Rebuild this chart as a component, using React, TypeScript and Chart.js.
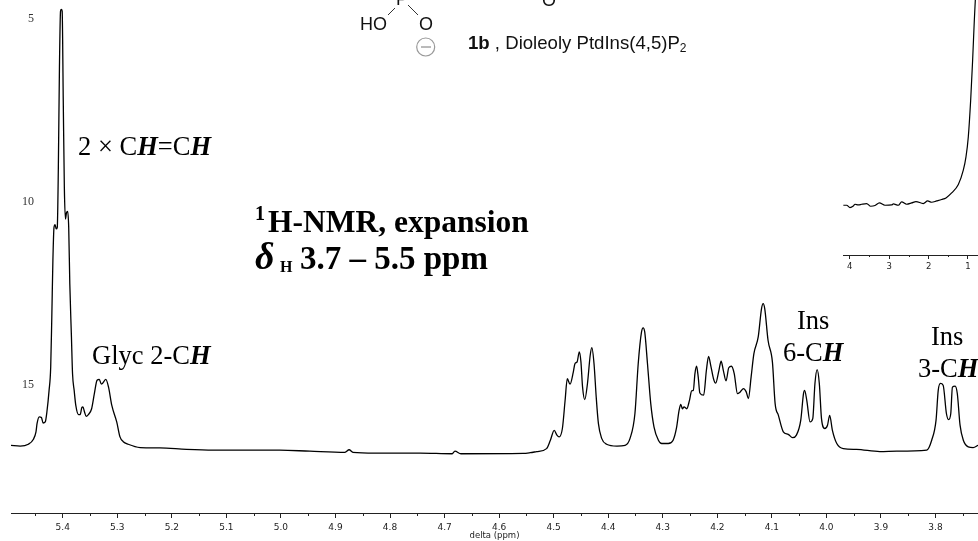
import React, { useEffect, useRef } from "react";
import { Chart, registerables } from "chart.js";

Chart.register(...registerables);

const spectrumPpm = [
  5.495, 5.478, 5.463, 5.454, 5.449, 5.447, 5.443, 5.439, 5.436, 5.432, 5.429, 5.425, 5.422, 5.42, 5.418, 5.416, 5.414, 5.412, 5.41, 5.408, 5.406, 5.404, 5.4025, 5.401, 5.399, 5.397, 5.395, 5.393, 5.391, 5.389, 5.387, 5.384, 5.382, 5.379, 5.376, 5.371, 5.368, 5.365, 5.363, 5.36, 5.357, 5.353, 5.347, 5.342, 5.337, 5.333, 5.329, 5.321, 5.316, 5.31, 5.301, 5.295, 5.289, 5.28, 5.258, 5.222, 5.173, 5.124, 5.075,
  5.002, 4.947, 4.8825, 4.875, 4.868, 4.8275, 4.745, 4.686, 4.681, 4.67, 4.556,
  4.543, 4.531, 4.513, 4.506, 4.499, 4.494, 4.49, 4.484, 4.479, 4.475, 4.47, 4.464, 4.461, 4.457, 4.453, 4.45, 4.447, 4.443, 4.438, 4.433, 4.43, 4.426, 4.422, 4.418, 4.412, 4.403, 4.384, 4.369, 4.36, 4.351, 4.345, 4.339, 4.336, 4.333, 4.328, 4.322, 4.316, 4.308, 4.302, 4.29, 4.281, 4.275, 4.27, 4.267, 4.264, 4.261, 4.256, 4.251, 4.247, 4.244, 4.241, 4.238, 4.235, 4.232, 4.225, 4.22, 4.216, 4.212, 4.207, 4.203, 4.197, 4.193, 4.189, 4.184, 4.179, 4.174, 4.169, 4.163, 4.158, 4.152, 4.147, 4.143, 4.138, 4.133, 4.125, 4.119, 4.116, 4.113, 4.107, 4.099, 4.094, 4.088, 4.079, 4.07, 4.062, 4.055, 4.047, 4.042, 4.04, 4.036, 4.03, 4.025, 4.021, 4.017, 4.013, 4.009, 4.003, 3.998, 3.994, 3.989, 3.981, 3.969, 3.945, 3.902, 3.871, 3.816, 3.807, 3.799, 3.795, 3.791, 3.786, 3.78, 3.776, 3.772, 3.769, 3.764, 3.76, 3.755, 3.749, 3.74, 3.731, 3.722,
];

const spectrumLevel = [
  16.64, 16.66, 16.61, 16.48, 16.27, 16.04, 15.86, 15.88, 16.03, 16.0, 15.73, 15.14, 14.5, 13.14, 11.59, 10.69, 10.61, 10.73, 10.69, 9.05, 6.33, 4.78, 4.73, 4.78, 7.23, 9.6, 10.46, 10.28, 10.25, 10.69, 12.23, 13.68, 14.68, 15.14, 15.55, 15.8, 15.8, 15.61, 15.59, 15.73, 15.85, 15.8, 15.64, 15.23, 14.86, 14.84, 14.97, 14.84, 15.05, 15.55, 16.0, 16.41, 16.54, 16.61, 16.7, 16.71, 16.75, 16.77, 16.77,
  16.77, 16.8, 16.83, 16.76, 16.83, 16.85, 16.85, 16.87, 16.8, 16.87, 16.86,
  16.84, 16.81, 16.73, 16.5, 16.23, 16.36, 16.41, 16.18, 15.41, 14.82, 14.97, 14.64, 14.41, 14.36, 14.09, 14.36, 15.05, 15.39, 14.95, 14.18, 13.97, 14.41, 15.32, 16.04, 16.45, 16.61, 16.66, 16.64, 16.45, 15.77, 14.41, 13.55, 13.43, 13.55, 14.41, 15.5, 16.14, 16.5, 16.59, 16.59, 16.5, 16.18, 15.68, 15.52, 15.64, 15.59, 15.64, 15.41, 15.15, 15.14, 14.68, 14.48, 14.77, 15.21, 15.27, 14.59, 14.21, 14.46, 14.82, 14.94, 14.59, 14.34, 14.59, 14.88, 14.52, 14.48, 14.68, 15.23, 15.18, 15.09, 15.18, 15.36, 14.77, 14.14, 13.68, 12.91, 12.77, 12.91, 13.77, 14.36, 15.5, 15.82, 16.27, 16.34, 16.43, 16.36, 15.95, 15.23, 15.14, 15.41, 16.0, 15.91, 14.95, 14.57, 14.95, 15.91, 16.18, 16.09, 15.82, 16.23, 16.59, 16.73, 16.75, 16.81, 16.8, 16.77, 16.5, 15.95, 15.14, 14.95, 15.0, 15.77, 15.94, 15.77, 15.05, 15.02, 15.23, 16.09, 16.5, 16.68, 16.7, 16.64,
];

const insetPpm = [
  4.164, 4.08, 3.995, 3.91, 3.868, 3.783, 3.699, 3.572, 3.47, 3.36, 3.25, 3.107, 2.937, 2.895, 2.768, 2.684, 2.557, 2.43, 2.32, 2.134, 2.024, 1.922, 1.795, 1.668, 1.558, 1.415, 1.245, 1.119, 1.051, 0.992, 0.932, 0.882, 0.839, 0.814,
];

const insetLevel = [
  49.7, 49.7, 47.4, 49, 50.7, 50, 50.7, 51.4, 48.7, 49.4, 52, 49.7, 50, 51, 49.7, 53, 50.7, 52, 53.4, 51.4, 54, 52.7, 54, 55.4, 57, 62, 70.4, 84.7, 98, 118, 154.7, 194.7, 234.7, 254.7,
];

const shiftTicks = [5.4, 5.3, 5.2, 5.1, 5.0, 4.9, 4.8, 4.7, 4.6, 4.5, 4.4, 4.3, 4.2, 4.1, 4.0, 3.9, 3.8];
const shiftMinorTicks = [5.45, 5.35, 5.25, 5.15, 5.05, 4.95, 4.85, 4.75, 4.65, 4.55, 4.45, 4.35, 4.25, 4.15, 4.05, 3.95, 3.85, 3.75];
const levelTicks = [5, 10, 15];
const insetTicks = [4, 3, 2, 1];
const insetMinorTicks = [3.5, 2.5, 1.5];
const axisTitle = "delta (ppm)";

const INK = "#000000";
const AXIS_FONT = { family: "'DejaVu Sans'", size: 9 };

const minorTickPlugin = (values: number[], length: number) => ({
  id: "minorTicks",
  afterDraw(chart: any) {
    const { ctx, scales, chartArea } = chart;
    ctx.save();
    ctx.strokeStyle = "#222222";
    ctx.lineWidth = 1;
    ctx.beginPath();
    values.forEach((v) => {
      const px = Math.round(scales.x.getPixelForValue(v)) + 0.5;
      ctx.moveTo(px, chartArea.bottom);
      ctx.lineTo(px, chartArea.bottom + length);
    });
    ctx.stroke();
    ctx.restore();
  },
});

export default function App() {
  const mainRef = useRef<HTMLCanvasElement>(null);
  const insetRef = useRef<HTMLCanvasElement>(null);

  useEffect(() => {
    const main = new Chart(mainRef.current as HTMLCanvasElement, {
      type: "line",
      data: {
        datasets: [
          {
            data: spectrumPpm.map((x, i) => ({ x, y: spectrumLevel[i] })),
            borderColor: INK,
            borderWidth: 1.3,
            pointRadius: 0,
            cubicInterpolationMode: "monotone",
          },
        ],
      },
      options: {
        animation: false,
        responsive: false,
        layout: { padding: { left: 11, right: 0, top: 0, bottom: 0 } },
        plugins: { legend: { display: false }, tooltip: { enabled: false } },
        scales: {
          x: {
            type: "linear",
            reverse: true,
            min: 3.7221,
            max: 5.4948,
            afterBuildTicks: (s: any) => {
              s.ticks = shiftTicks.map((value) => ({ value }));
            },
            afterFit: (s: any) => {
              s.height = 28;
            },
            grid: { display: true, drawOnChartArea: false, tickLength: 5, tickColor: "#222222" },
            border: { display: true, color: "#222222", width: 1 },
            ticks: {
              maxRotation: 0,
              autoSkip: false,
              padding: 4,
              color: "#222222",
              font: AXIS_FONT,
              callback: (v: any) => Number(v).toFixed(1),
            },
            title: {
              display: true,
              text: axisTitle,
              color: "#222222",
              font: { family: "'DejaVu Sans'", size: 8.5 },
              padding: 0,
            },
          },
          y: {
            type: "linear",
            reverse: true,
            position: { x: 5.4527 } as any,
            min: 4.673,
            max: 18.488,
            afterBuildTicks: (s: any) => {
              s.ticks = levelTicks.map((value) => ({ value }));
            },
            grid: { display: false },
            border: { display: false },
            ticks: {
              padding: 0,
              color: "#333333",
              font: { family: "'Liberation Serif'", size: 12 },
            },
          },
        },
      },
      plugins: [minorTickPlugin(shiftMinorTicks, 3)],
    } as any);

    const inset = new Chart(insetRef.current as HTMLCanvasElement, {
      type: "line",
      data: {
        datasets: [
          {
            data: insetPpm.map((x, i) => ({ x, y: insetLevel[i] })),
            borderColor: INK,
            borderWidth: 1.2,
            pointRadius: 0,
            cubicInterpolationMode: "monotone",
          },
        ],
      },
      options: {
        animation: false,
        responsive: false,
        layout: { padding: 0 },
        plugins: { legend: { display: false }, tooltip: { enabled: false } },
        scales: {
          x: {
            type: "linear",
            reverse: true,
            min: 0.746,
            max: 4.1725,
            afterBuildTicks: (s: any) => {
              s.ticks = insetTicks.map((value) => ({ value }));
            },
            afterFit: (s: any) => {
              s.height = 20;
            },
            grid: { display: true, drawOnChartArea: false, tickLength: 4, tickColor: "#222222" },
            border: { display: true, color: "#222222", width: 1 },
            ticks: {
              maxRotation: 0,
              autoSkip: false,
              padding: 3,
              color: "#222222",
              font: { family: "'DejaVu Sans'", size: 8.5 },
            },
          },
          y: { type: "linear", display: false, min: 0, max: 254.7 },
        },
      },
      plugins: [minorTickPlugin(insetMinorTicks, 2)],
    } as any);

    return () => {
      main.destroy();
      inset.destroy();
    };
  }, []);

  const serif = "'Liberation Serif'";
  const sans = "'Liberation Sans'";

  return (
    <div style={{ position: "absolute", left: 0, top: 0, width: 978, height: 541, overflow: "hidden", background: "#fff" }}>
      <canvas ref={mainRef} width={978} height={541} style={{ position: "absolute", left: 0, top: 0 }} />
      <canvas ref={insetRef} width={135} height={275} style={{ position: "absolute", left: 843, top: 0 }} />
      <svg width={978} height={541} style={{ position: "absolute", left: 0, top: 0, pointerEvents: "none" }}>
        <g fontFamily={sans} fill="#111" fontSize={18}>
          <text x={360} y={30}>HO</text>
          <text x={396} y={5}>P</text>
          <text x={419} y={30}>O</text>
          <text x={542} y={6}>O</text>
          <text x={468} y={49} fontSize={18.6}>
            <tspan fontWeight="bold">1b</tspan> , Dioleoly PtdIns(4,5)P
            <tspan fontSize={12} dy={3}>2</tspan>
          </text>
        </g>
        <line x1={388} y1={15} x2={395} y2={8} stroke="#333" strokeWidth={1} />
        <line x1={408} y1={5} x2={418} y2={15} stroke="#333" strokeWidth={1} />
        <circle cx={425.7} cy={47} r={9} fill="none" stroke="#999" strokeWidth={1.2} />
        <line x1={421} y1={47} x2={431} y2={47} stroke="#777" strokeWidth={1} />

        <g fontFamily={serif} fill="#000" fontSize={26.5}>
          <text x={78} y={155}>
            2 × C<tspan fontWeight="bold" fontStyle="italic">H</tspan>=C<tspan fontWeight="bold" fontStyle="italic">H</tspan>
          </text>
          <text x={92} y={364}>
            Glyc 2-C<tspan fontWeight="bold" fontStyle="italic">H</tspan>
          </text>
          <text x={797} y={329}>Ins</text>
          <text x={783} y={361}>
            6-C<tspan fontWeight="bold" fontStyle="italic">H</tspan>
          </text>
          <text x={931} y={345}>Ins</text>
          <text x={918} y={377}>
            3-C<tspan fontWeight="bold" fontStyle="italic">H</tspan>
          </text>
        </g>
        <g fontFamily={serif} fill="#000" fontWeight="bold" fontSize={31.5}>
          <text x={255} y={232}>
            <tspan fontSize={20} dy={-12}>1</tspan>
            <tspan x={268} dy={12}>H-NMR, expansion</tspan>
          </text>
          <text x={255} y={269}>
            <tspan fontStyle="italic" fontSize={38}>δ</tspan>
            <tspan x={280} fontSize={16} dy={3}>H</tspan>
            <tspan x={300} dy={-3} fontSize={33}>3.7 – 5.5 ppm</tspan>
          </text>
        </g>
      </svg>
    </div>
  );
}
